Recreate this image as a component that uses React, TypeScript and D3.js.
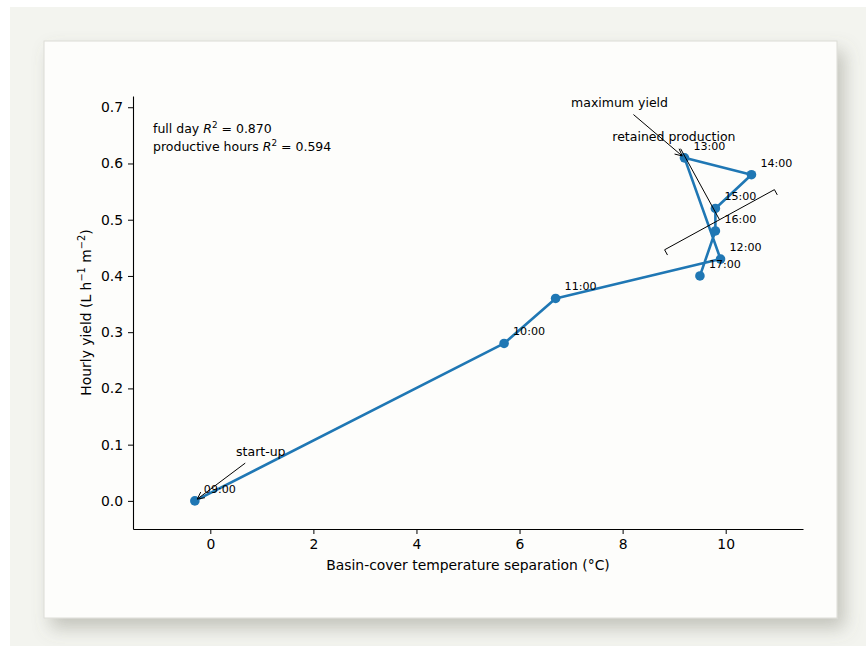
import React, { useEffect, useRef } from 'react';
import * as d3 from 'd3';

// hourly readings
const times = ['09:00', '10:00', '11:00', '12:00', '13:00', '14:00', '15:00', '16:00', '17:00'];
const tempSep = [-0.3, 5.7, 6.7, 9.9, 9.2, 10.5, 9.8, 9.8, 9.5];
const hourlyYield = [0.0, 0.28, 0.36, 0.43, 0.61, 0.58, 0.52, 0.48, 0.4];

const xTicks = [0, 2, 4, 6, 8, 10];
const yTicks = [0, 0.1, 0.2, 0.3, 0.4, 0.5, 0.6, 0.7];

// annotations (text position, target, arrow style)
const noteText = ['start-up', 'maximum yield', 'retained production'];
const noteX = [0.5, 7.0, 7.8];
const noteY = [0.08, 0.7, 0.64];
const noteTargetX = [-0.3, 9.2, 9.88];
const noteTargetY = [0.0, 0.61, 0.5];
const noteStyle = ['arrow', 'arrow', 'bracket'];

const r2Labels = ['full day', 'productive hours'];
const r2Values = ['0.870', '0.594'];

const FONT = 'DejaVu Sans, sans-serif';
const BLUE = '#1f77b4';

export default function App() {
  const ref = useRef<SVGSVGElement>(null);

  useEffect(() => {
    const svg = d3.select(ref.current);
    svg.selectAll('*').remove();

    var margin = { left: 133, top: 96, right: 803, bottom: 529 };

    const defs = svg.append('defs');
    const f = defs.append('filter').attr('id', 'shadow')
      .attr('x', '-10%').attr('y', '-10%').attr('width', '130%').attr('height', '130%');
    f.append('feDropShadow').attr('dx', 7).attr('dy', 10).attr('stdDeviation', 9)
      .attr('flood-color', '#6b6b60').attr('flood-opacity', 0.35);

    // page background and card
    svg.append('rect').attr('x', 10).attr('y', 7).attr('width', 856).attr('height', 639).attr('fill', '#f3f4ef');
    svg.append('rect').attr('x', 44).attr('y', 41).attr('width', 793).attr('height', 577)
      .attr('fill', '#fdfdfb').attr('stroke', '#dcdcd6').attr('stroke-width', 1)
      .attr('filter', 'url(#shadow)');

    const x = d3.scaleLinear().domain([-1.5, 11.5]).range([margin.left, margin.right]);
    const y = d3.scaleLinear().domain([-0.05, 0.72]).range([margin.bottom, margin.top]);

    const g = svg.append('g');

    // axes
    const xAxis = g.append('g').attr('transform', `translate(0, ${margin.bottom})`)
      .call(d3.axisBottom(x).tickValues(xTicks).tickFormat(d3.format('d')).tickSize(5).tickPadding(5).tickSizeOuter(0));
    const yAxis = g.append('g').attr('transform', `translate(${margin.left}, 0)`)
      .call(d3.axisLeft(y).tickValues(yTicks).tickFormat(d3.format('.1f')).tickSize(5).tickPadding(5).tickSizeOuter(0));
    [xAxis, yAxis].forEach(a => {
      a.selectAll('text').attr('font-family', FONT).attr('font-size', 13.9).attr('fill', '#000');
      a.selectAll('line').attr('stroke', '#000').attr('stroke-width', 1);
      a.select('.domain').attr('stroke', '#000').attr('stroke-width', 1.1);
    });

    // axis labels
    g.append('text').attr('x', (margin.left + margin.right) / 2).attr('y', 570)
      .attr('text-anchor', 'middle').attr('font-family', FONT).attr('font-size', 13.9)
      .text('Basin-cover temperature separation (°C)');
    const yl = g.append('text').attr('transform', `translate(91, ${(margin.top + margin.bottom) / 2}) rotate(-90)`)
      .attr('text-anchor', 'middle').attr('font-family', FONT).attr('font-size', 13.9);
    yl.append('tspan').text('Hourly yield (L h');
    yl.append('tspan').attr('font-size', 9.8).attr('dy', -6).text('−1');
    yl.append('tspan').attr('dy', 6).text(' m');
    yl.append('tspan').attr('font-size', 9.8).attr('dy', -6).text('−2');
    yl.append('tspan').attr('dy', 6).text(')');

    // line + markers
    const idx = d3.range(times.length);
    const line = d3.line<number>().x(i => x(tempSep[i])).y(i => y(hourlyYield[i]));
    g.append('path').attr('d', line(idx)).attr('fill', 'none').attr('stroke', BLUE)
      .attr('stroke-width', 2.6).attr('stroke-linejoin', 'round');
    g.selectAll('circle.pt').data(idx).join('circle').attr('class', 'pt')
      .attr('cx', i => x(tempSep[i])).attr('cy', i => y(hourlyYield[i])).attr('r', 4.8).attr('fill', BLUE);
    g.selectAll('text.tm').data(idx).join('text').attr('class', 'tm')
      .attr('x', i => x(tempSep[i]) + 9).attr('y', i => y(hourlyYield[i]) - 8)
      .attr('font-family', FONT).attr('font-size', 11.1).text(i => times[i]);

    // R^2 text
    r2Labels.forEach((lab, i) => {
      const t = g.append('text').attr('x', 153).attr('y', 133 + i * 18)
        .attr('font-family', FONT).attr('font-size', 12.5);
      t.append('tspan').text(lab + ' ');
      t.append('tspan').attr('font-style', 'italic').text('R');
      t.append('tspan').attr('font-size', 8.8).attr('dy', -5).text('2');
      t.append('tspan').attr('dy', 5).text(' = ' + r2Values[i]);
    });

    // annotations
    noteText.forEach((txt, i) => {
      const t = g.append('text').attr('x', x(noteX[i])).attr('y', y(noteY[i]))
        .attr('font-family', FONT).attr('font-size', 12.5).text(txt);
      const bb = (t.node() as SVGTextElement).getBBox();
      const pad = 3;
      const b = { x0: bb.x - pad, y0: bb.y - pad, x1: bb.x + bb.width + pad, y1: bb.y + bb.height + pad };
      const cx = bb.x + bb.width / 2, cy = bb.y + bb.height / 2;
      const tx = x(noteTargetX[i]), ty = y(noteTargetY[i]);
      const dx = tx - cx, dy = ty - cy;
      let tt = 1;
      if (dx > 0) tt = Math.min(tt, (b.x1 - cx) / dx);
      if (dx < 0) tt = Math.min(tt, (b.x0 - cx) / dx);
      if (dy > 0) tt = Math.min(tt, (b.y1 - cy) / dy);
      if (dy < 0) tt = Math.min(tt, (b.y0 - cy) / dy);
      const len = Math.hypot(dx, dy);
      const ux = dx / len, uy = dy / len;
      const sx = cx + dx * tt + ux * 2, sy = cy + dy * tt + uy * 2;
      const ex = noteStyle[i] === 'arrow' ? tx - ux * 3 : tx;
      const ey = noteStyle[i] === 'arrow' ? ty - uy * 3 : ty;
      const p = d3.path();
      p.moveTo(sx, sy); p.lineTo(ex, ey);
      if (noteStyle[i] === 'arrow') {
        const hl = 7, hw = 3.5;
        p.moveTo(ex - ux * hl - uy * hw, ey - uy * hl + ux * hw);
        p.lineTo(ex, ey);
        p.lineTo(ex - ux * hl + uy * hw, ey - uy * hl - ux * hw);
      } else {
        const w = 62.6, tl = 6;
        const px = -uy, py = ux;
        p.moveTo(ex + px * w + ux * tl, ey + py * w + uy * tl);
        p.lineTo(ex + px * w, ey + py * w);
        p.lineTo(ex - px * w, ey - py * w);
        p.lineTo(ex - px * w + ux * tl, ey - py * w + uy * tl);
      }
      g.append('path').attr('d', p.toString()).attr('fill', 'none')
        .attr('stroke', '#000').attr('stroke-width', 1);
    });
  }, []);

  return (
    <div style={{ position: 'fixed', left: 0, top: 0, width: 866, height: 646 }}>
      <svg ref={ref} width={866} height={646} style={{ display: 'block' }} />
    </div>
  );
}
